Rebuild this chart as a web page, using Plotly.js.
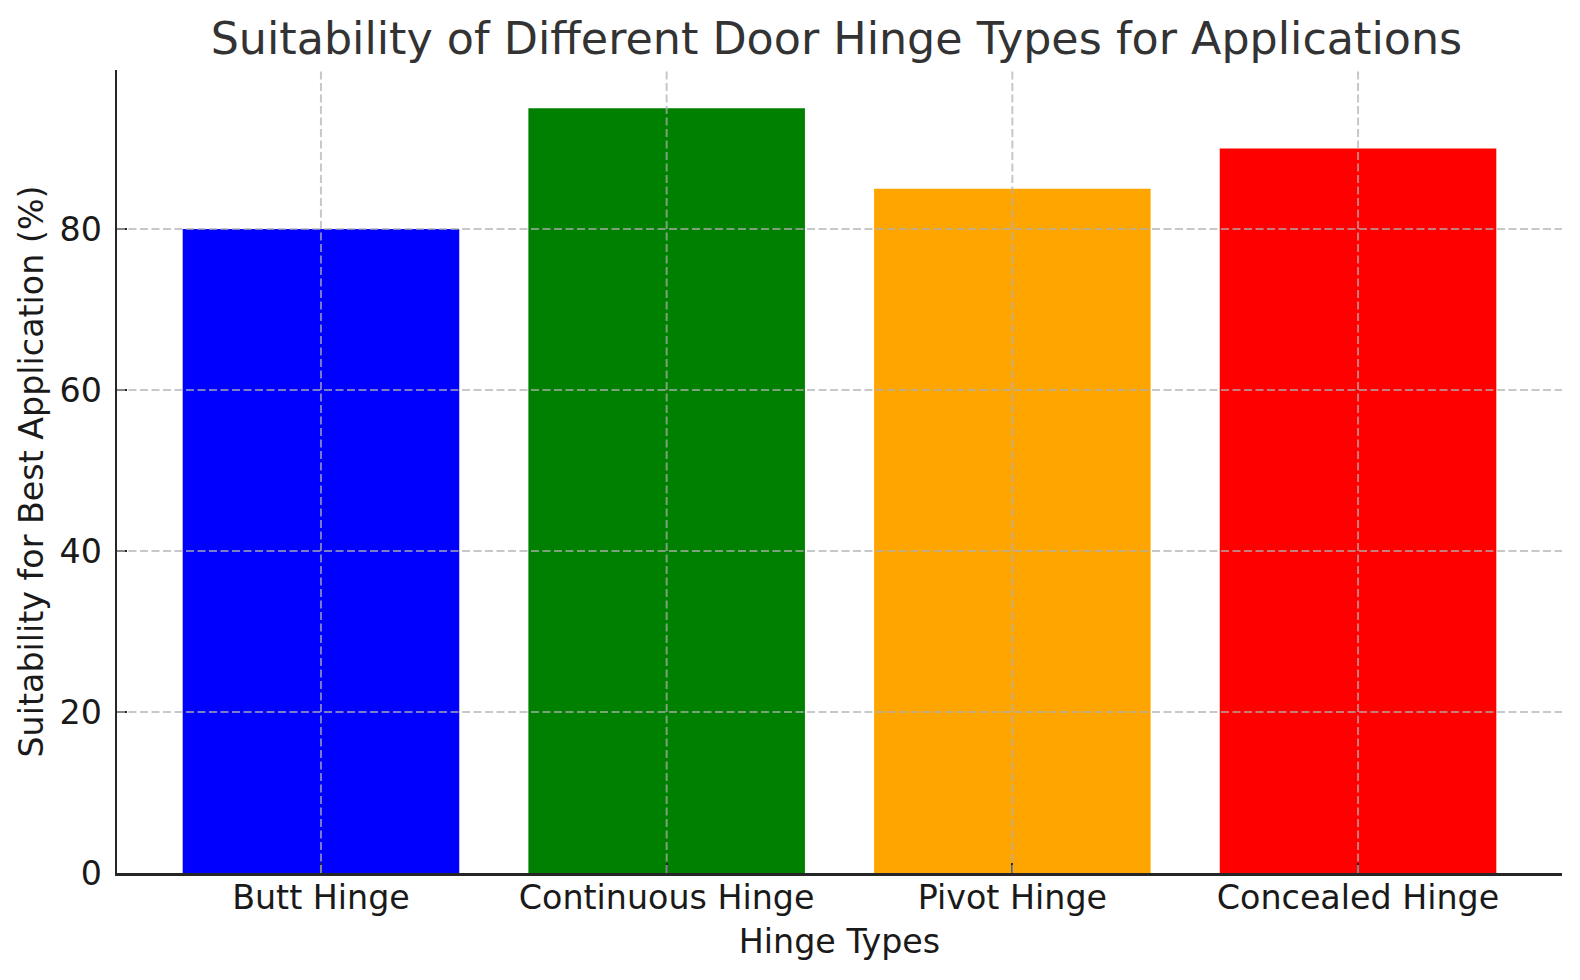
<!DOCTYPE html>
<html>
<head>
<meta charset="utf-8">
<script src="https://cdn.plot.ly/plotly-3.0.1.min.js"></script>
<style>html,body{margin:0;padding:0;background:#fff;}#chart{width:1580px;height:980px;}</style>
</head>
<body>
<div id="chart"></div>
<script>
const categories = ["Butt Hinge", "Continuous Hinge", "Pivot Hinge", "Concealed Hinge"];
const suitability = [80, 95, 85, 90];
const barColors = ["#0000ff", "#008000", "#ffa500", "#ff0000"];
const yTicks = [0, 20, 40, 60, 80];

const font = "DejaVu Sans, sans-serif";
const gridStyle = {color: "rgba(176,176,176,0.7)", width: 2, dash: "8px,3.5px"};

const shapes = [];
categories.forEach(c => shapes.push({type: "line", layer: "above", xref: "x", yref: "paper", x0: c, x1: c, y0: 0, y1: 1, line: gridStyle}));
yTicks.filter(v => v > 0).forEach(v => shapes.push({type: "line", layer: "above", xref: "paper", yref: "y", x0: 0, x1: 1, y0: v, y1: v, line: gridStyle}));

const data = [{
  type: "bar",
  x: categories,
  y: suitability,
  width: 0.8,
  marker: {color: barColors, line: {width: 0}},
  hoverinfo: "x+y"
}];

const layout = {
  width: 1580, height: 980,
  margin: {l: 117, r: 18, t: 70, b: 107},
  paper_bgcolor: "#ffffff", plot_bgcolor: "#ffffff",
  font: {family: font, color: "#1a1a1a", size: 33.3},
  showlegend: false,
  title: {text: "Suitability of Different Door Hinge Types for Applications", font: {family: font, size: 44.4, color: "#333333"}, x: 0.5294, xanchor: "center", yref: "container", y: 0.9765, yanchor: "top"},
  xaxis: {
    type: "category", range: [-0.59, 3.59],
    showgrid: false, zeroline: false,
    showline: true, linecolor: "#262626", linewidth: 2.5,
    ticks: "inside", ticklen: 10, tickwidth: 2, tickcolor: "#262626",
    tickfont: {family: font, size: 33.3, color: "#1a1a1a"},
    ticklabelstandoff: -6,
    layer: "above traces",
    title: {text: "Hinge Types", font: {family: font, size: 33.3, color: "#1a1a1a"}, standoff: 13},
    automargin: false
  },
  yaxis: {
    range: [0, 99.75], tickvals: yTicks, ticktext: yTicks.map(String),
    showgrid: false, zeroline: false,
    showline: true, linecolor: "#262626", linewidth: 2.5,
    ticks: "inside", ticklen: 10, tickwidth: 2, tickcolor: "#262626",
    tickfont: {family: font, size: 33.3, color: "#1a1a1a"},
    ticklabelstandoff: 6,
    layer: "above traces",
    title: {text: "Suitability for Best Application (%)", font: {family: font, size: 33.3, color: "#1a1a1a"}, standoff: 6},
    automargin: false
  },
  shapes: shapes,
  bargap: 0.2
};

Plotly.newPlot("chart", data, layout, {displayModeBar: false, staticPlot: true});
</script>
</body>
</html>
